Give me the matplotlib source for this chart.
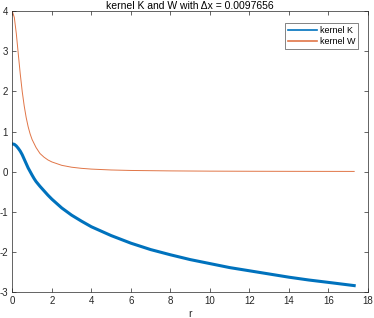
import matplotlib
matplotlib.use("Agg")
import matplotlib.pyplot as plt

plt.rcParams["font.family"] = ["Liberation Sans", "DejaVu Sans"]
plt.rcParams["axes.unicode_minus"] = False

# values
r_K = [0, 0.1, 0.2, 0.3, 0.4, 0.5, 0.6, 0.7, 0.8, 0.9, 1.0, 1.1, 1.2, 1.4, 1.6, 1.8, 2.0,
       2.5, 3, 3.5, 4, 5, 6, 7, 8, 9, 10, 11, 12, 13, 14, 15, 16, 17.3]
kernel_K = [0.69, 0.68, 0.64, 0.58, 0.51, 0.42, 0.31, 0.20, 0.09, 0.0, -0.09, -0.175,
            -0.25, -0.37, -0.48, -0.59, -0.69, -0.91, -1.09, -1.24, -1.38, -1.60, -1.79,
            -1.95, -2.08, -2.20, -2.30, -2.40, -2.48, -2.56, -2.64, -2.71, -2.77, -2.85]

r_W = [0, 0.1, 0.2, 0.3, 0.4, 0.5, 0.6, 0.7, 0.8, 0.9, 1.0, 1.2, 1.4, 1.6, 1.8, 2.0,
       2.5, 3, 3.5, 4, 5, 6, 8, 10, 12, 14, 17.3]
kernel_W = [4.00, 3.85, 3.45, 2.94, 2.44, 2.00, 1.64, 1.35, 1.12, 0.94, 0.80, 0.60,
            0.45, 0.36, 0.29, 0.24, 0.155, 0.108, 0.080, 0.061, 0.039, 0.027, 0.016,
            0.010, 0.007, 0.005, 0.003]

x_ticks = list(range(0, 19, 2))
y_ticks = list(range(-3, 5))
title = "kernel K and W with \u0394x = 0.0097656"

axis_col = "#262626"

fig = plt.figure(figsize=(3.74, 3.18), dpi=100)
ax = fig.add_axes([0.033, 0.083, 0.951, 0.881])

ax.plot(r_K, kernel_K, color="#0072BD", linewidth=2.2, label="kernel K")
ax.plot(r_W, kernel_W, color="#D95319", linewidth=0.7, alpha=0.8, label="kernel W")

ax.set_xlim(0, 18)
ax.set_ylim(-3, 4)
ax.set_xticks(x_ticks)
ax.set_yticks(y_ticks)
ax.tick_params(direction="in", length=3, width=0.5, labelsize=7, colors=axis_col,
               top=True, right=True, pad=3)
for s in ax.spines.values():
    s.set_color(axis_col)
    s.set_linewidth(0.5)

ax.set_xlabel("r", fontsize=7.5, color=axis_col, labelpad=2)
ax.set_title(title, fontsize=7.5, color="black", pad=2)

leg = ax.legend(loc="upper right", fontsize=6.5, frameon=True, fancybox=False,
                handlelength=3.2, borderpad=0.35, labelspacing=0.2, handletextpad=0.3,
                bbox_to_anchor=(0.985, 0.975))
leg.get_frame().set_edgecolor(axis_col)
leg.get_frame().set_linewidth(0.5)
for line in leg.get_lines():
    line.set_linewidth(1.2)

fig.savefig("out.png", dpi=100)
